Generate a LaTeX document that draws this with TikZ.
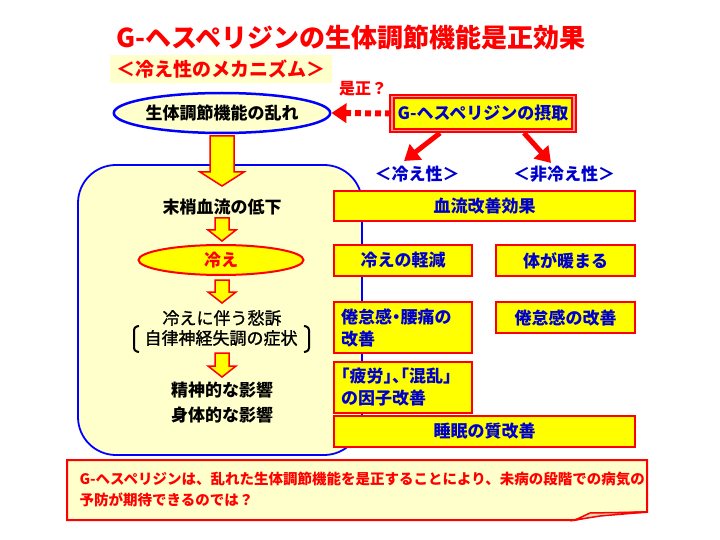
\documentclass[tikz,border=0pt]{standalone}
\usepackage{fontspec}
\newfontfamily\jp{Noto Sans CJK JP}
\newfontfamily\jpm{Noto Sans CJK JP}[FakeBold=1.2]
\newfontfamily\jph{Noto Sans CJK JP}[RawFeature=+halt]
\usetikzlibrary{arrows.meta,shapes.geometric}
\definecolor{myred}{HTML}{FF0000}
\definecolor{myyel}{HTML}{FFFF00}
\definecolor{ltyel}{HTML}{FFFFCC}
\definecolor{myblue}{HTML}{0000FF}
\definecolor{txtblue}{HTML}{0000CC}
\definecolor{mypink}{HTML}{FF9999}
\newcommand\yarrow[6]{%
  \draw[yarr] (#1-#5,#2) -- (#1+#5,#2) -- (#1+#5,#3) -- (#1+#6,#3) -- (#1,#4) -- (#1-#6,#3) -- (#1-#5,#3) -- cycle;}
\begin{document}
\begin{tikzpicture}[x=1pt,y=-1pt,
  every node/.style={font=\jp},
  yarr/.style={fill=myyel,draw=myred,line width=1.5pt,line join=miter},
  rbox/.style={rectangle,fill=myyel,draw=myred,line width=2.5pt,inner sep=0pt,
     text=txtblue,font=\jp\bfseries\fontsize{17}{22}\selectfont},
  rboxh/.style={rbox,font=\jph\bfseries\fontsize{17}{22}\selectfont},
  lefttxt/.style={font=\jp\bfseries\fontsize{17}{22}\selectfont,text=black},
  lefttxtn/.style={font=\jpm\fontsize{17}{22}\selectfont,text=black},
  redarr/.style={myred,line width=5pt,-{Triangle[length=15pt,width=19pt]}}
  ]
\useasboundingbox (0,0) rectangle (720,540);
\fill[white] (0,0) rectangle (720,540);

% title
\node[text=myred,font=\jp\bfseries\fontsize{26}{30}\selectfont] (title) at (351,38) {G-ヘスペリジンの生体調節機能是正効果};
\node[fill=ltyel,minimum width=222pt,minimum height=28pt,inner sep=0pt,
  text=myred,font=\jp\bfseries\fontsize{19}{22}\selectfont] (sub) at (221,69) {＜冷え性のメカニズム＞};

% left panel
\draw[myblue,line width=1.8pt,fill=ltyel,rounded corners=38pt] (78,165) rectangle (362,455);

% top ellipse
\node[ellipse,draw=myblue,line width=2.5pt,fill=ltyel,minimum width=205pt,minimum height=40pt,inner sep=0pt,
  font=\jp\bfseries\fontsize{17}{20}\selectfont] (ell) at (222,113) {生体調節機能の乱れ};

\node[text=myred,font=\jp\bfseries\fontsize{16}{20}\selectfont] (ze) at (363,89) {是正？};

% G box
\node[rectangle,fill=myyel,draw=myred,double=mypink,double distance=1.5pt,line width=2pt,
  minimum width=182pt,minimum height=34pt,inner sep=0pt,text=txtblue,
  font=\jp\bfseries\fontsize{17}{20}\selectfont] (gh) at (483,113.5) {G-ヘスペリジンの摂取};

\draw[myred,line width=6pt,dash pattern=on 6pt off 4pt,-{Triangle[length=15pt,width=19pt]}]
  (gh.west) -- (ell.east);

\coordinate (a1s) at (440,133);
\coordinate (a1e) at (404,161);
\coordinate (a2s) at (524,133);
\coordinate (a2e) at (551,163);
\draw[redarr] (a1s) -- (a1e);
\draw[redarr] (a2s) -- (a2e);

\node[text=txtblue,font=\jp\bfseries\fontsize{17}{20}\selectfont] (lh) at (417,174) {＜冷え性＞};
\node[text=txtblue,font=\jp\bfseries\fontsize{17}{20}\selectfont] (lnh) at (564,174) {＜非冷え性＞};

% big yellow arrow
\yarrow{222}{136}{172}{186}{12}{22}

% left texts
\node[lefttxt] (t1) at (222,207) {末梢血流の低下};
\yarrow{222}{218}{230}{241}{7}{14}
\node[ellipse,fill=myyel,draw=myred,line width=2pt,minimum width=165pt,minimum height=30pt,inner sep=0pt,
  text=myred,font=\jp\bfseries\fontsize{17}{20}\selectfont] (hie) at (221,260) {冷え};
\yarrow{222}{280}{292}{303}{7}{14}
\node[lefttxtn] (t2) at (222,318) {冷えに伴う愁訴};
\node[lefttxtn] (t3) at (221,338) {自律神経失調の症状};
\draw[black,line width=2pt,rounded corners=3pt] (139,326) -- (134,327) -- (134,351) -- (139,352);
\draw[black,line width=2pt,rounded corners=3pt] (304,326) -- (309,327) -- (309,351) -- (304,352);
\yarrow{222}{353}{366}{377}{7}{14}
\node[lefttxt] (t4) at (222,390) {精神的な影響};
\node[lefttxt] (t5) at (222,415) {身体的な影響};

% right boxes
\node[rbox,minimum width=301pt,minimum height=30pt] (b1) at (484.5,206) {血流改善効果};
\node[rbox,minimum width=138pt,minimum height=31pt] (b2) at (403,260.5) {冷えの軽減};
\node[rbox,minimum width=139pt,minimum height=31pt] (b3) at (565.5,260.5) {体が暖まる};
\node[rboxh,minimum width=138pt,minimum height=51pt,text width=124pt,align=left] (b4) at (403,327.5) {倦怠感・腰痛の\\改善};
\node[rbox,minimum width=139pt,minimum height=31pt] (b5) at (565.5,317.5) {倦怠感の改善};
\node[rboxh,minimum width=138pt,minimum height=51pt,text width=124pt,align=left] (b6) at (403,387.5) {「疲労」、「混乱」\\の因子改善};
\node[rbox,minimum width=301pt,minimum height=31pt] (b7) at (484.5,431.5) {睡眠の質改善};

% bottom box
\draw[myred,line width=2pt,fill=ltyel,line join=miter] (67,460) -- (647,460) -- (647,512) -- (600,514) -- (575,520) -- (67,520) -- cycle;
\draw[myred,line width=1.5pt,fill=ltyel!70!gray] (575,520) -- (590,513) -- (647,512) -- (600,516) -- cycle;
\node[anchor=west,text=myred,font=\jp\bfseries\fontsize{14.5}{18}\selectfont] (c1) at (76,479)
  {G-ヘスペリジンは、乱れた生体調節機能を是正することにより、未病の段階での病気の};
\node[anchor=west,text=myred,font=\jp\bfseries\fontsize{14.5}{18}\selectfont] (c2) at (76,500)
  {予防が期待できるのでは？};
\end{tikzpicture}
\end{document}
